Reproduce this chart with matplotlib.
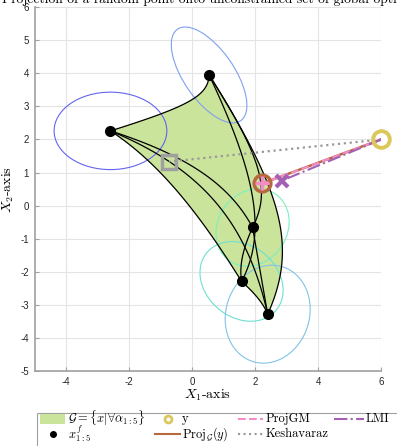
import itertools

import matplotlib
matplotlib.use('Agg')
import matplotlib.pyplot as plt
import numpy as np
from matplotlib.lines import Line2D
from matplotlib.patches import Ellipse, Rectangle

plt.rcParams['mathtext.fontset'] = 'cm'
plt.rcParams['axes.unicode_minus'] = False

# local optima x^f_i and the shape of their quadratic level sets
xf_x = [-2.59, 0.54, 1.92, 1.57, 2.40]
xf_y = [2.26, 3.95, -0.66, -2.29, -3.28]
cov_xx = [3.2, 1.44, 1.35, 1.74, 1.82]
cov_yy = [1.37, 2.10, 1.37, 1.45, 2.19]
cov_xy = [0.0, -1.1, 0.2, -0.35, 0.2]
ell_colors = ['#6464f0', '#7f9ff0', '#7af0c0', '#6ee0d0', '#80c4e4']

# random point and the projections
y_pt = [6.0, 2.0]
proj_pt = [2.22, 0.67]
lmi_pt = [2.86, 0.76]
kesh_pt = [-0.73, 1.33]

serif = 'cmr10'
W, H = 397, 446
green = '#cbe49b'


def pareto_curve(i, j, n=120):
    # global optimum of t*f_i + (1-t)*f_j for t in [0, 1]
    Mi = np.linalg.inv(np.array([[cov_xx[i], cov_xy[i]], [cov_xy[i], cov_yy[i]]]))
    Mj = np.linalg.inv(np.array([[cov_xx[j], cov_xy[j]], [cov_xy[j], cov_yy[j]]]))
    ci = np.array([xf_x[i], xf_y[i]])
    cj = np.array([xf_x[j], xf_y[j]])
    pts = []
    for t in np.linspace(1, 0, n):
        M = t * Mi + (1 - t) * Mj
        b = t * Mi @ ci + (1 - t) * Mj @ cj
        pts.append(np.linalg.solve(M, b))
    return np.array(pts)


fig = plt.figure(figsize=(W / 100, H / 100), dpi=100)
ax = fig.add_axes([0.087, 0.168, 0.873, 0.816])

# region G as union of the images of all triangles
for i, j, k in itertools.combinations(range(5), 3):
    poly = np.vstack([pareto_curve(i, j), pareto_curve(j, k), pareto_curve(k, i)])
    ax.fill(poly[:, 0], poly[:, 1], color=green, lw=0, zorder=1)

for i, j in itertools.combinations(range(5), 2):
    c = pareto_curve(i, j)
    ax.plot(c[:, 0], c[:, 1], color='black', lw=0.9, zorder=3)

for i in range(5):
    S = np.array([[cov_xx[i], cov_xy[i]], [cov_xy[i], cov_yy[i]]])
    w, v = np.linalg.eigh(S)
    ang = np.degrees(np.arctan2(v[1, 1], v[0, 1]))
    ax.add_patch(Ellipse((xf_x[i], xf_y[i]), 2 * np.sqrt(w[1]), 2 * np.sqrt(w[0]),
                         angle=ang, fill=False, ec=ell_colors[i], lw=0.8, zorder=2))

ax.plot(xf_x, xf_y, 'o', color='black', ms=7, zorder=5)

# lines from y to the projections
ax.plot([y_pt[0], kesh_pt[0]], [y_pt[1], kesh_pt[1]], ':', color='#999999', lw=1.6, zorder=4)
ax.plot([y_pt[0], proj_pt[0]], [y_pt[1], proj_pt[1]], '-', color='#b8683e', lw=1.8, zorder=4)
ax.plot([y_pt[0], proj_pt[0]], [y_pt[1], proj_pt[1]], '--', color='#f48cc8', lw=1.5, zorder=4)
ax.plot([y_pt[0], lmi_pt[0]], [y_pt[1], lmi_pt[1]], '-.', color='#a461b4', lw=1.5, zorder=4)

ax.plot(*y_pt, 'o', mfc='none', mec='#dcc75a', ms=12, mew=2.8, zorder=6, clip_on=False)
ax.plot(*kesh_pt, 's', mfc='none', mec='#a0a0a0', ms=10, mew=2.5, zorder=6)
ax.plot(*proj_pt, 'o', mfc='none', mec='#b8683e', ms=12, mew=2.5, zorder=6)
ax.plot(*proj_pt, '+', color='#f48cc8', ms=10, mew=2.5, zorder=7)
ax.plot(*lmi_pt, 'x', color='#a461b4', ms=8, mew=3, zorder=7)

ax.set_xlim(-5, 6)
ax.set_ylim(-5, 6)
ax.set_xticks([-4, -2, 0, 2, 4, 6])
ax.set_yticks(range(-5, 7))
ax.grid(True, color='#e4e4e4', lw=0.8)
ax.set_axisbelow(True)
for s in ['top', 'right']:
    ax.spines[s].set_visible(False)
for s in ['left', 'bottom']:
    ax.spines[s].set_color('#a0a0a0')
    ax.spines[s].set_linewidth(1.2)
ax.tick_params(direction='in', length=3, color='#a0a0a0', labelsize=7,
               labelcolor='#262626', pad=4)
for lab in ax.get_xticklabels() + ax.get_yticklabels():
    lab.set_fontfamily('Liberation Sans')

ax.set_xlabel('$X_1$-axis', fontsize=10, family=serif, labelpad=1)
ax.set_ylabel('$X_2$-axis', fontsize=10, family=serif, labelpad=3)

fig.text(0.524, 1 - 3 / H, 'Projection of a random point onto unconstrained set of global optima',
         ha='center', va='baseline', fontsize=9.7, family=serif)


# legend laid out by hand in pixel positions (two rows, four columns)
def fx(px):
    return px / W


def fy(py):
    return 1 - py / H


fig.add_artist(Rectangle((fx(37), fy(452)), fx(370), 39 / H, transform=fig.transFigure,
                         fc='white', ec='#a0a0a0', lw=0.8, clip_on=False))
row1, row2 = 418.5, 434
fig.add_artist(Rectangle((fx(40), fy(424)), fx(25), 10.5 / H, transform=fig.transFigure,
                         fc=green, ec='none'))
fig.add_artist(Line2D([fx(53)], [fy(row2)], transform=fig.transFigure, ls='none',
                      marker='o', color='black', ms=4))
fig.add_artist(Line2D([fx(168)], [fy(row1)], transform=fig.transFigure, ls='none',
                      marker='o', mfc='none', mec='#dcc75a', ms=5, mew=2))
line_items = [(155, 180, row2, '#b8683e', '-'), (238, 263, row1, '#f48cc8', '--'),
              (238, 264, row2, '#999999', ':'), (334, 364, row1, '#a461b4', '-.')]
for x0, x1, yy, col, ls in line_items:
    fig.add_artist(Line2D([fx(x0), fx(x1)], [fy(yy), fy(yy)], transform=fig.transFigure,
                          color=col, ls=ls, lw=1.5))
text_items = [(68, row1, r'$\mathcal{G}=\{x|\forall\alpha_{1:5}\}$'), (68, row2, '$x^f_{1:5}$'),
              (182, row1, 'y'), (182, row2, r'Proj$_\mathcal{G}(y)$'),
              (266, row1, 'ProjGM'), (266, row2, 'Keshavaraz'), (366, row1, 'LMI')]
for px, py, s in text_items:
    fig.text(fx(px), fy(py), s, ha='left', va='center', fontsize=9, family=serif)

fig.savefig('out.png', dpi=100)
